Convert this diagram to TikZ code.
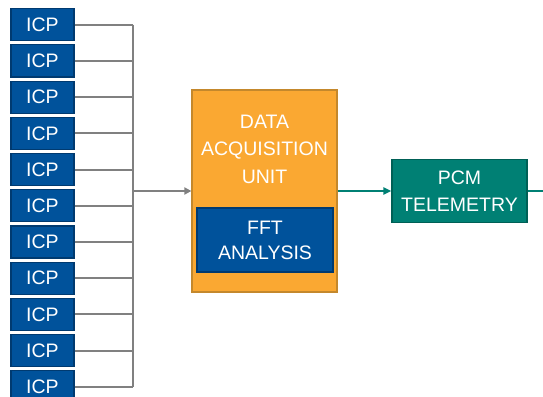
\documentclass[tikz,border=0pt]{standalone}
\usepackage{fontspec}
\setmainfont{Liberation Sans}
\usetikzlibrary{arrows.meta}

\definecolor{icpblue}{RGB}{0,82,155}
\definecolor{icpedge}{RGB}{0,58,112}
\definecolor{daqorange}{RGB}{250,168,50}
\definecolor{daqedge}{RGB}{196,136,44}
\definecolor{pcmteal}{RGB}{0,128,116}
\definecolor{pcmedge}{RGB}{0,96,86}
\definecolor{busgray}{RGB}{128,128,128}

\tikzset{
  icpbox/.style={draw=icpedge,fill=icpblue,line width=1.2pt,text=white,
    minimum width=63pt,minimum height=32pt,inner sep=0pt,
    font=\fontsize{19.5}{22}\selectfont},
  daqbox/.style={draw=daqedge,fill=daqorange,line width=1.2pt,
    minimum width=145pt,minimum height=202pt,inner sep=0pt},
  fftbox/.style={draw=icpedge,fill=icpblue,line width=1.2pt,text=white,align=center,
    minimum width=136pt,minimum height=64pt,inner sep=0pt,
    font=\fontsize{19.5}{25}\selectfont},
  pcmbox/.style={draw=pcmedge,fill=pcmteal,line width=1.2pt,text=white,align=center,
    minimum width=135pt,minimum height=63pt,inner sep=0pt,
    font=\fontsize{19.5}{27}\selectfont},
  bus/.style={draw=busgray,line width=2pt},
  link/.style={draw=pcmteal,line width=2pt}
}

\begin{document}
\begin{tikzpicture}[x=1pt,y=-1pt]
        \pgfmathsetmacro{\h}{36.2}
        \useasboundingbox (0,0) rectangle (543,396);
        \clip (0,0) rectangle (543,396);

        \foreach \i in {0,...,10}
          \node[icpbox] (icp\i) at (42.5,24.7 + \h * \i) {ICP};

        \coordinate (bus) at (133,191);

        \node[daqbox] (daq) at (264.5,191) {};
        \node[text=white,align=center,font=\fontsize{19.5}{27.5}\selectfont]
          (daqtext) at (264.5,149) {DATA\\ACQUISITION\\UNIT};
        \node[fftbox] (fft) at (265,240) {FFT\\ANALYSIS};

        \node[pcmbox] (pcm) at (459.5,191) {PCM\\TELEMETRY};
        \coordinate (out) at (543,191);

        \foreach \i in {0,...,10}
          \draw[bus] (icp\i.east) -- (icp\i.east -| bus);
        \draw[bus] (icp0.east -| bus) -- (icp10.east -| bus);
        \draw[bus,-{Triangle[length=7pt,width=7pt]}] (bus) -- (daq.west);

        \draw[link,-{Triangle[length=8pt,width=7pt]}] (daq.east) -- (pcm.west);
        \draw[link] (pcm.east) -- (out);
      \end{tikzpicture}
\end{document}
